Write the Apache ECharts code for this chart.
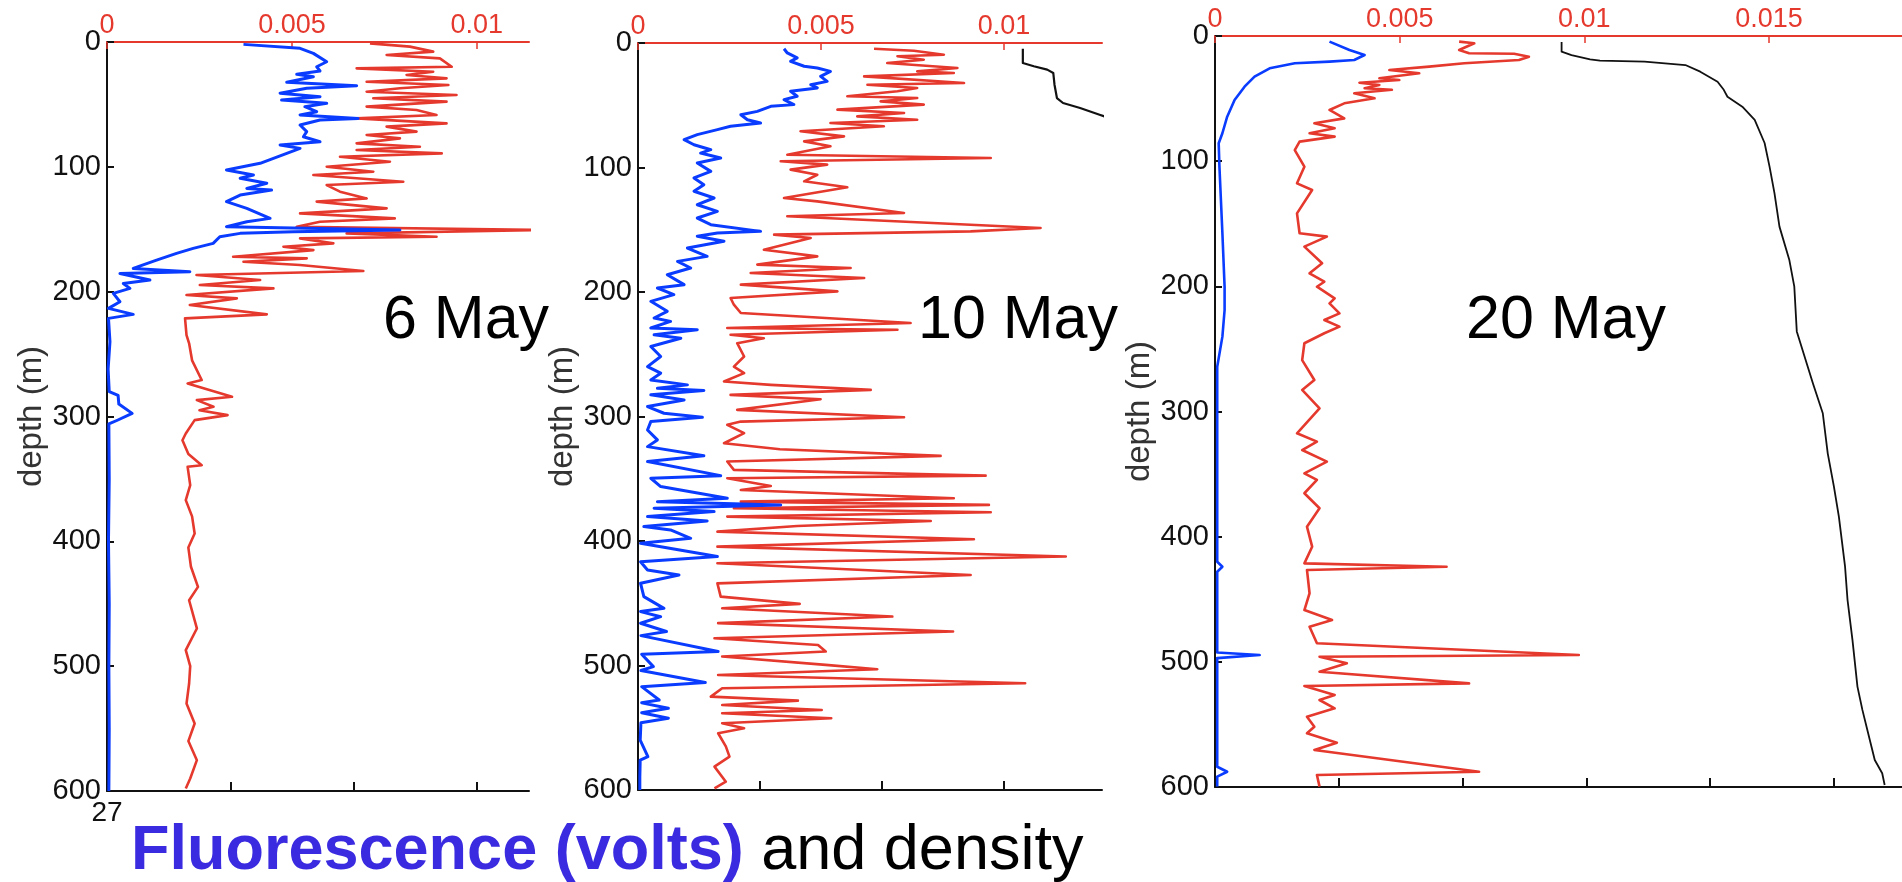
<!DOCTYPE html>
<html>
<head>
<meta charset="utf-8">
<title>Fluorescence and density profiles</title>
<script src="https://cdn.jsdelivr.net/npm/echarts@6/dist/echarts.min.js"></script>
<style>
  html, body { margin: 0; padding: 0; background: #fff; }
  #chart { width: 1902px; height: 882px; }
</style>
</head>
<body>
<div id="chart"></div>
<script>
// axes
const depthTicks = [0, 100, 200, 300, 400, 500, 600]
const topTicks = [0, 5, 10, 15] // in units of 1e-3
const topTickLabels = ['0', '0.005', '0.01', '0.015']
const densityTicks = [27, 27.1, 27.2, 27.3, 27.4, 27.5]
const panelDates = ['6 May', '10 May', '20 May']
const topMax = [11.41, 12.68, 18.6]
const densityMax = [27.342, 27.381, 27.555]

// 6 May -- values x 1e-3
const may6BlueDepth = [1.9, 5.1, 9.1, 15.8, 19.8, 23.2, 25.9, 27.8, 32.3, 35.0, 37.1, 41.1, 43.8, 46.5, 49.1, 51.8, 55.8, 58.5, 61.2, 62.5, 66.5, 71.8, 75.9, 79.9, 82.5, 85.2, 89.2, 93.2, 97.2, 102.6, 106.6, 109.2, 113.2, 117.3, 118.6, 122.6, 127.9, 133.3, 141.3, 144.0, 148.0, 150.6, 152.0, 153.3, 156.0, 161.3, 165.3, 169.3, 174.7, 181.4, 184.0, 185.4, 190.7, 193.4, 197.4, 201.4, 208.1, 213.4, 218.2, 221.4, 240, 262, 280, 283, 290, 297.5, 303, 306, 350, 400, 450, 500, 550, 600]
const may6Blue = [3.69, 5.22, 5.58, 5.94, 5.67, 5.76, 5.13, 5.58, 4.86, 6.75, 5.40, 4.68, 5.76, 4.72, 5.94, 5.35, 5.67, 5.22, 6.79, 5.76, 5.22, 5.40, 5.31, 5.76, 4.68, 5.22, 4.86, 4.50, 4.14, 3.23, 3.96, 3.60, 4.32, 3.78, 4.45, 3.60, 3.23, 3.78, 4.41, 3.78, 3.23, 7.92, 5.04, 3.60, 3.05, 2.87, 2.33, 1.88, 1.34, 0.71, 2.24, 0.35, 1.16, 0.44, 0.62, 0.17, 0.35, 0.04, 0.71, 0.04, 0.08, 0.03, 0.06, 0.30, 0.32, 0.68, 0.28, 0.05, 0.06, 0.04, 0.06, 0.05, 0.06, 0.05]
const may6RedDepth = [1.1, 3.7, 7.7, 10.4, 13.1, 19.8, 21.1, 23.8, 26.4, 29.1, 31.8, 34.5, 37.1, 39.8, 42.5, 45.1, 47.8, 51.8, 54.5, 58.5, 61.2, 65.2, 67.8, 71.8, 74.5, 77.2, 81.2, 83.9, 86.5, 89.2, 91.9, 95.9, 99.9, 103.9, 106.6, 111.9, 114.6, 119.9, 125.3, 127.9, 133.3, 137.3, 141.3, 144.0, 148.0, 150.6, 153.3, 156.0, 157.3, 161.3, 164.0, 166.7, 172.0, 173.3, 176.0, 178.7, 183.5, 186.7, 190.7, 194.7, 197.4, 202.7, 205.4, 210.7, 218.2, 221.4, 234.8, 241.4, 255, 270.8, 273.5, 284.2, 286.9, 292.2, 295, 298.9, 302.9, 313.6, 319.0, 330, 339.0, 340.3, 355, 367, 380, 393.7, 405, 420.4, 436.5, 447.2, 469.8, 487.2, 500, 513.9, 530, 545.9, 560, 575.3, 590, 598]
const may6Red = [7.11, 8.19, 8.82, 7.56, 9.00, 9.32, 6.75, 8.82, 8.10, 9.18, 7.02, 9.23, 7.92, 7.02, 9.45, 7.20, 9.18, 7.02, 8.37, 8.91, 6.75, 9.18, 7.56, 8.37, 7.02, 7.92, 6.75, 8.46, 6.75, 9.05, 6.30, 7.65, 5.94, 7.20, 5.58, 8.01, 5.94, 6.30, 7.02, 5.67, 7.56, 5.22, 7.78, 5.76, 5.13, 11.8, 6.48, 8.91, 5.22, 6.12, 4.77, 5.58, 3.41, 5.40, 3.69, 5.22, 6.93, 2.42, 4.14, 2.51, 4.50, 2.15, 3.51, 2.24, 4.32, 2.11, 2.15, 2.22, 2.30, 2.56, 2.18, 3.38, 2.43, 2.88, 2.50, 3.26, 2.37, 2.13, 2.04, 2.20, 2.56, 2.18, 2.25, 2.13, 2.30, 2.37, 2.20, 2.27, 2.46, 2.22, 2.43, 2.13, 2.25, 2.22, 2.15, 2.37, 2.20, 2.43, 2.25, 2.13]

// 10 May -- values x 1e-3, density in kg/m3 - 1000
const may10BlueDepth = [4.6, 8.0, 12.0, 14.7, 18.7, 20.1, 22.8, 26.8, 30.8, 33.5, 36.1, 38.8, 42.8, 45.5, 49.5, 50.9, 54.9, 57.6, 61.6, 64.3, 66.9, 69.6, 73.6, 77.6, 81.7, 85.7, 88.4, 92.4, 96.4, 103.1, 108.4, 113.8, 119.1, 124.5, 129.9, 135.2, 140.6, 145.9, 151.3, 152.6, 155.3, 159.3, 164.7, 171.4, 175.4, 180.7, 186.1, 194.1, 196.8, 202.1, 207.5, 215.5, 220.9, 223.6, 228.9, 230.3, 234.3, 237.1, 243.8, 251.8, 259.9, 265.2, 270.6, 274.6, 277.3, 279.1, 282.6, 286.7, 292.0, 297.4, 300.6, 304.1, 310.8, 318.8, 324.2, 331.6, 336.2, 347.5, 349.6, 356.3, 365.7, 368.4, 371.0, 373.7, 376.4, 380.4, 383.9, 388.4, 391.1, 397.8, 401.8, 412.5, 416.6, 423.3, 427.3, 434.0, 444.7, 454.1, 456.7, 460.8, 466.1, 472.7, 476, 488.8, 491, 500.9, 504, 513.7, 517, 527.7, 530, 534.4, 538, 542.4, 546, 560, 573.2, 576, 590, 600]
const may10Blue = [3.99, 4.08, 4.35, 4.17, 4.54, 4.90, 5.26, 4.99, 5.17, 4.72, 4.90, 4.17, 4.35, 3.99, 4.26, 3.63, 3.26, 2.81, 2.99, 3.35, 2.53, 2.17, 1.62, 1.26, 1.53, 1.99, 1.71, 2.26, 1.62, 1.99, 1.53, 1.80, 1.53, 2.08, 1.62, 2.17, 1.62, 1.99, 3.35, 2.17, 1.62, 2.35, 1.35, 1.89, 1.08, 1.44, 0.80, 1.26, 0.53, 0.98, 0.35, 0.80, 0.44, 0.89, 0.35, 1.62, 0.44, 1.17, 0.35, 0.62, 0.26, 0.62, 0.35, 1.35, 0.53, 1.80, 0.35, 1.26, 0.26, 0.71, 1.76, 0.35, 0.26, 0.53, 0.26, 1.80, 0.26, 2.26, 0.35, 0.62, 2.44, 0.53, 3.90, 0.44, 2.08, 0.26, 1.89, 0.16, 0.89, 1.44, 0.07, 2.17, 0.07, 0.26, 1.12, 0.07, 0.16, 0.71, 0.07, 0.62, 0.07, 0.78, 0.08, 2.19, 0.10, 0.42, 0.08, 1.84, 0.10, 0.58, 0.10, 0.83, 0.10, 0.83, 0.08, 0.06, 0.27, 0.06, 0.05, 0.05]
const may10RedDepth = [4.6, 6.2, 9.4, 10.7, 13.4, 16.1, 20.1, 22.8, 24.1, 26.8, 32.1, 33.5, 36.1, 38.8, 42.8, 44.2, 46.9, 49.5, 53.5, 56.2, 58.9, 61.6, 64.3, 66.9, 70.9, 75.0, 79.0, 83.0, 89.7, 92.4, 95.0, 97.7, 101.7, 105.8, 111.1, 115.9, 124.5, 127.2, 136.5, 139.2, 148.6, 151.3, 153.9, 156.6, 166.0, 171.4, 178.0, 180.7, 184.7, 188.8, 194.1, 199.5, 204.8, 210.2, 216.9, 224.9, 228.9, 230.3, 234.3, 237.1, 241.1, 251.8, 259.9, 265.2, 271.9, 274.6, 278.6, 282.6, 286.1, 294.7, 300.6, 304.1, 306.7, 313.4, 321.5, 326.3, 331.6, 336.2, 342.9, 347.5, 349.6, 355.8, 359.0, 365.7, 368.4, 371.0, 373.7, 376.9, 380.4, 383.9, 387.9, 392.5, 398.6, 404.5, 412.5, 417.9, 427.3, 434.0, 444.7, 450.5, 454, 460.7, 466, 472.7, 478.1, 483.5, 488.8, 492.8, 499.5, 503, 507.6, 514.3, 518.3, 525, 528.2, 531.7, 535.7, 538.4, 542.4, 546.4, 550.4, 554.4, 565, 573.2, 581.2, 593.3, 598.6]
const may10Red = [6.45, 7.54, 8.36, 7.09, 7.81, 6.81, 8.73, 7.63, 8.63, 6.18, 8.91, 6.27, 7.63, 7.09, 5.72, 7.63, 6.63, 7.81, 5.45, 7.27, 5.99, 7.63, 5.26, 6.72, 4.44, 5.63, 4.54, 5.26, 4.08, 9.64, 3.90, 5.17, 4.17, 4.90, 4.54, 5.72, 3.99, 4.90, 7.27, 4.08, 11.00, 9.09, 3.72, 4.72, 3.44, 4.90, 3.26, 5.81, 3.08, 6.18, 2.81, 5.45, 2.53, 2.62, 2.81, 7.45, 2.44, 7.09, 2.53, 3.44, 2.71, 2.90, 2.62, 2.90, 2.35, 3.63, 6.36, 2.53, 4.99, 2.71, 7.27, 2.81, 2.44, 2.90, 2.35, 3.88, 8.27, 2.44, 2.62, 9.50, 2.44, 3.63, 2.81, 8.63, 2.81, 9.59, 2.62, 9.64, 2.44, 8.00, 4.35, 2.17, 9.18, 2.17, 11.69, 2.17, 9.09, 2.17, 2.26, 4.42, 2.30, 6.95, 2.19, 8.61, 2.09, 4.92, 5.13, 2.30, 5.13, 6.54, 2.19, 10.58, 2.30, 1.99, 4.37, 2.30, 5.02, 2.30, 5.28, 2.30, 2.90, 2.19, 2.40, 2.50, 2.09, 2.40, 2.09]
const may10DensityDepth = [4.6, 16.1, 18.7, 21.4, 24.1, 33.5, 44.2, 48.2, 52.2, 57.6, 63]
const may10Density = [27.316, 27.316, 27.325, 27.336, 27.341, 27.342, 27.344, 27.349, 27.363, 27.379, 27.395]

// 20 May
const may20BlueDepth = [4.5, 11.2, 15.2, 19.2, 20.5, 21.8, 25.8, 32.5, 40.5, 51.1, 64.5, 77.7, 85.7, 104.4, 157.4, 200.3, 218.9, 240.2, 264.2, 344, 420, 424, 428, 477, 492.5, 494.6, 497, 583.8, 587.8, 591.7, 599.7]
const may20Blue = [3.10, 3.64, 4.05, 3.77, 3.10, 2.16, 1.48, 1.07, 0.80, 0.53, 0.33, 0.20, 0.10, 0.12, 0.20, 0.26, 0.26, 0.20, 0.06, 0.06, 0.06, 0.20, 0.06, 0.06, 0.06, 1.21, 0.06, 0.06, 0.33, 0.06, 0.06]
const may20RedDepth = [4.5, 5.8, 11.2, 13.8, 14.2, 16.5, 19.2, 21.8, 24.5, 27.2, 29.8, 33.8, 35.2, 37.3, 39.1, 41.8, 43.0, 45.8, 49.8, 53.8, 59.1, 65.8, 69.7, 73.7, 77.7, 80.4, 84.4, 91.1, 104.4, 117.7, 123.0, 141.7, 157.6, 160.3, 168.3, 181.6, 189.6, 196.3, 200.3, 209.6, 213.6, 221.6, 226.9, 232.2, 237.5, 245.5, 258.9, 274.8, 282.8, 297.5, 317.4, 324.1, 330.8, 340.1, 349.4, 354.7, 365.3, 377.3, 392.0, 408.0, 421.3, 424.0, 426.6, 445.2, 458.6, 466.6, 471.9, 485.2, 494.5, 495.9, 501.2, 507.9, 517.2, 519.3, 526.5, 530.5, 537.1, 543.8, 551.8, 557.1, 564.6, 570.4, 587.8, 590.4, 599.7]
const may20Red = [6.61, 7.02, 6.61, 6.88, 8.10, 8.50, 8.23, 6.75, 5.80, 4.72, 5.53, 4.45, 4.99, 3.91, 4.45, 4.05, 4.79, 3.77, 4.32, 3.50, 3.10, 3.50, 2.69, 3.24, 2.56, 3.24, 2.29, 2.16, 2.42, 2.22, 2.63, 2.22, 2.29, 3.03, 2.42, 2.90, 2.56, 2.96, 2.76, 3.24, 3.10, 3.37, 2.96, 3.37, 2.96, 2.42, 2.36, 2.69, 2.36, 2.83, 2.22, 2.76, 2.36, 3.03, 2.42, 2.76, 2.42, 2.83, 2.49, 2.63, 2.42, 6.27, 2.49, 2.56, 2.42, 3.17, 2.56, 2.76, 9.85, 2.83, 3.57, 2.83, 6.88, 2.42, 3.24, 2.83, 3.24, 2.49, 2.69, 2.49, 3.30, 2.69, 7.15, 2.76, 2.83]
const may20DensityDepth = [4.8, 12.5, 15.2, 18.7, 19.7, 20.5, 23.2, 28.5, 36.5, 43.0, 48.5, 56.5, 67.0, 85.5, 104.4, 125.7, 152.3, 179.0, 200.3, 236, 277.5, 301.4, 333.4, 360, 384, 424, 450.6, 482.6, 519.8, 538.4, 562.4, 578.4, 589, 598.4]
const may20Density = [27.280, 27.280, 27.288, 27.303, 27.311, 27.347, 27.380, 27.392, 27.406, 27.411, 27.414, 27.426, 27.436, 27.444, 27.448, 27.452, 27.456, 27.464, 27.468, 27.470, 27.483, 27.491, 27.495, 27.500, 27.504, 27.509, 27.511, 27.515, 27.519, 27.523, 27.529, 27.533, 27.539, 27.541]

const RED = '#e5392e'
const BLUE = '#0a3cff'
const FONT = '"Liberation Sans", Arial, Helvetica, sans-serif'

// grid boxes in px: [left, top, width, height]
const boxes = [
  [107, 42, 422, 749],
  [638, 43, 464, 747],
  [1215, 36, 687, 751],
]

function zip(values, depths) {
  return values.map((v, i) => [v, depths[i]])
}

const grids = []
const xAxes = []
const yAxes = []
boxes.forEach((b, i) => {
  grids.push({ left: b[0], top: b[1], width: b[2], height: b[3], containLabel: false, outerBoundsMode: 'none' })
  const tops = topTicks.filter(t => t <= topMax[i])
  xAxes.push({
    type: 'value',
    gridIndex: i,
    position: 'top',
    min: 0,
    max: topMax[i],
    axisLine: { show: true, lineStyle: { color: RED, width: 2 } },
    axisTick: { show: true, inside: true, length: 7, customValues: tops, lineStyle: { color: RED, width: 1.5 } },
    axisLabel: {
      show: true,
      customValues: tops,
      margin: 3,
      color: RED,
      fontSize: 27,
      fontFamily: FONT,
      formatter: v => topTickLabels[topTicks.indexOf(v)],
    },
    splitLine: { show: false },
  })
  const dens = densityTicks.filter(t => t > 27 && t < densityMax[i])
  xAxes.push({
    type: 'value',
    gridIndex: i,
    position: 'bottom',
    min: 27,
    max: densityMax[i],
    axisLine: { show: true, lineStyle: { color: '#111', width: 2 } },
    axisTick: { show: true, inside: true, length: 9, customValues: dens, lineStyle: { color: '#111', width: 2 } },
    axisLabel: {
      show: i === 0,
      customValues: [densityTicks[0]],
      margin: 8,
      color: '#111',
      fontSize: 28,
      fontFamily: FONT,
    },
    splitLine: { show: false },
  })
  yAxes.push({
    type: 'value',
    gridIndex: i,
    inverse: true,
    min: 0,
    max: 600,
    interval: 100,
    name: 'depth (m)',
    nameLocation: 'middle',
    nameRotate: 90,
    nameGap: 58,
    nameTextStyle: { color: '#333', fontSize: 33, fontFamily: FONT },
    axisLine: { show: true, lineStyle: { color: '#111', width: 2 } },
    axisTick: { show: true, inside: true, length: 7, lineStyle: { color: '#111', width: 2 } },
    axisLabel: {
      margin: 6,
      color: '#111',
      fontSize: 29,
      fontFamily: FONT,
      formatter: v => String(depthTicks[depthTicks.indexOf(v)]),
    },
    splitLine: { show: false },
  })
})

function line(data, xi, yi, color, width) {
  return {
    type: 'line',
    xAxisIndex: xi,
    yAxisIndex: yi,
    data: data,
    showSymbol: false,
    symbol: 'none',
    silent: true,
    clip: true,
    lineStyle: { color: color, width: width, join: 'round' },
    itemStyle: { color: color },
  }
}

const series = [
  line(zip(may6Red, may6RedDepth), 0, 0, RED, 2.6),
  line(zip(may6Blue, may6BlueDepth), 0, 0, BLUE, 3),
  line(zip(may10Red, may10RedDepth), 2, 1, RED, 2.6),
  line(zip(may10Blue, may10BlueDepth), 2, 1, BLUE, 3),
  line(zip(may10Density, may10DensityDepth), 3, 1, '#111', 2.2),
  line(zip(may20Red, may20RedDepth), 4, 2, RED, 2.6),
  line(zip(may20Blue, may20BlueDepth), 4, 2, BLUE, 2.6),
  line(zip(may20Density, may20DensityDepth), 5, 2, '#111', 1.8),
]

const dateX = [383, 918, 1466]
const graphics = panelDates.map((d, i) => ({
  type: 'text',
  x: dateX[i],
  y: 321,
  style: {
    text: d,
    font: '61px ' + FONT,
    fill: '#000',
    textVerticalAlign: 'middle',
  },
}))
graphics.push({
  type: 'text',
  x: 131,
  y: 852,
  style: {
    text: '{a|Fluorescence (volts)}{b| and density}',
    textVerticalAlign: 'middle',
    rich: {
      a: { fontSize: 63, fontWeight: 'bold', fontFamily: FONT, fill: '#3a2ae0', color: '#3a2ae0' },
      b: { fontSize: 63, fontFamily: FONT, fill: '#000', color: '#000' },
    },
  },
})

const myChart = echarts.init(document.getElementById('chart'))
myChart.setOption({
  animation: false,
  backgroundColor: '#fff',
  grid: grids,
  xAxis: xAxes,
  yAxis: yAxes,
  series: series,
  graphic: graphics,
})

window.addEventListener('resize', () => myChart.resize())
</script>
</body>
</html>
